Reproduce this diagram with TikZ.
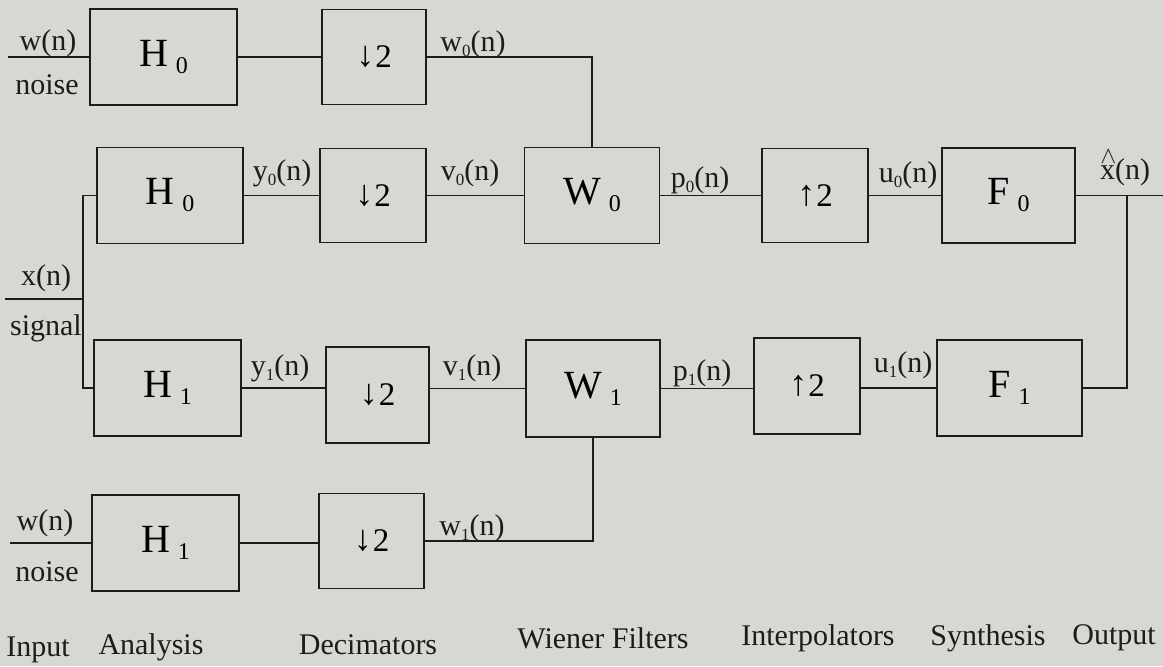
\documentclass[tikz,border=0pt]{standalone}
\usepackage{fontspec}
\setmainfont{Liberation Serif}
\usepackage{graphicx}
\definecolor{paper}{RGB}{213,216,211}
\definecolor{ink}{RGB}{28,28,28}
\newcommand{\bsub}[1]{\hspace{4pt}\raisebox{-3.5pt}{\fontsize{12}{12}\selectfont #1}}
\newcommand{\ssub}[1]{\raisebox{-2.5pt}{\fontsize{8.5}{8.5}\selectfont #1}}
\newcommand{\darr}{\raisebox{0.5pt}{\fontsize{18}{18}\selectfont ↓}\hspace{0.5pt}}
\newcommand{\uarr}{\raisebox{0.5pt}{\fontsize{18}{18}\selectfont ↑}\hspace{0.5pt}}
\newcommand{\xhat}{\rlap{\hspace{0.2pt}\raisebox{8pt}{\fontsize{13}{13}\selectfont$\wedge$}}x}
\begin{document}
\begin{tikzpicture}[x=0.5pt,y=-0.5pt,
  blk/.style 2 args={draw=ink, line width=0.85pt, inner sep=0pt,
    minimum width=#1*0.5pt, minimum height=#2*0.5pt},
  btxt/.style={font=\fontsize{20}{20}\selectfont},
  dtxt/.style={font=\fontsize{16.5}{16.5}\selectfont},
  lbl/.style={inner sep=0pt, text=ink, font=\fontsize{15}{15}\selectfont},
  wire/.style={draw=ink, line width=0.85pt}]
\fill[paper] (0,0) rectangle (1163,666);
\useasboundingbox (0,0) rectangle (1163,666);

% ---- blocks ----
\node[blk={147}{96}, btxt] (H0a) at (163.5,57) {H\bsub{0}};
\node[blk={104}{95}, dtxt] (D0a) at (374,57) {\darr 2};

\node[blk={146}{96}, btxt] (H0b) at (170,195.5) {H\bsub{0}};
\node[blk={106}{94}, dtxt] (D0b) at (373,195.5) {\darr 2};
\node[blk={135}{96}, btxt] (W0) at (592,195.5) {W\bsub{0}};
\node[blk={106}{94}, dtxt] (U0) at (815,195.5) {\uarr 2};
\node[blk={133}{95}, btxt] (F0) at (1008.5,195.5) {F\bsub{0}};

\node[blk={147}{96}, btxt] (H1c) at (167.5,388) {H\bsub{1}};
\node[blk={103}{96}, dtxt] (D1c) at (377.5,395) {\darr 2};
\node[blk={134}{97}, btxt] (W1) at (593,388.5) {W\bsub{1}};
\node[blk={106}{96}, dtxt] (U1) at (807,386) {\uarr 2};
\node[blk={145}{96}, btxt] (F1) at (1009.5,388) {F\bsub{1}};

\node[blk={147}{96}, btxt] (H1d) at (165.5,543) {H\bsub{1}};
\node[blk={105}{95}, dtxt] (D1d) at (371.5,541) {\darr 2};

% ---- free ends / corners ----
\coordinate (inA) at (8,57);
\coordinate (inX) at (5,299);
\coordinate (br) at (83,299);
\coordinate (inD) at (10,543);
\coordinate (oj) at (1127,195.5);
\coordinate (out) at (1163,195.5);

% ---- connectors ----
\draw[wire] (inA) -- (H0a);
\draw[wire] (H0a) -- (D0a);
\draw[wire] (D0a) -| (W0);

\draw[wire] (inX) -- (br);
\draw[wire] (H0b) -| (br) |- (H1c);
\draw[wire] (H0b) -- (D0b);
\draw[wire] (D0b) -- (W0);
\draw[wire] (W0) -- (U0);
\draw[wire] (U0) -- (F0);
\draw[wire] (F0) -- (out);

\draw[wire] (H1c) -- (H1c -| D1c.west);
\draw[wire] (D1c.east |- W1) -- (W1);
\draw[wire] (W1) -- (W1 -| U1.west);
\draw[wire] (U1.east |- F1) -- (F1);
\draw[wire] (F1) -| (oj);

\draw[wire] (inD) -- (H1d);
\draw[wire] (H1d) -- (H1d -| D1d.west);
\draw[wire] (D1d) -| (W1);

% ---- signal labels ----
\node[lbl] (lwA) at (48,43) {w(n)};
\node[lbl] (lnA) at (47,85) {noise};
\node[lbl] (lw0) at (473,44) {w\ssub{0}(n)};
\node[lbl] (ly0) at (282,173) {y\ssub{0}(n)};
\node[lbl] (lv0) at (470,173) {v\ssub{0}(n)};
\node[lbl] (lp0) at (700,180) {p\ssub{0}(n)};
\node[lbl] (lu0) at (908,175) {u\ssub{0}(n)};
\node[lbl] (lxh) at (1125,168) {\xhat(n)};
\node[lbl] (lx) at (46,278) {x(n)};
\node[lbl] (ls) at (46,328) {signal};
\node[lbl] (ly1) at (280,368) {y\ssub{1}(n)};
\node[lbl] (lv1) at (472,368) {v\ssub{1}(n)};
\node[lbl] (lp1) at (702,373) {p\ssub{1}(n)};
\node[lbl] (lu1) at (903,365) {u\ssub{1}(n)};
\node[lbl] (lwD) at (45,523) {w(n)};
\node[lbl] (lnD) at (47,572) {noise};
\node[lbl] (lw1) at (472,528) {w\ssub{1}(n)};

% ---- stage captions ----
\node[lbl] (cIn) at (38,650) {Input};
\node[lbl] (cAn) at (151,647) {Analysis};
\node[lbl] (cDe) at (368,645) {Decimators};
\node[lbl] (cWi) at (603,638) {Wiener Filters};
\node[lbl] (cIp) at (818,638) {Interpolators};
\node[lbl] (cSy) at (988,638) {Synthesis};
\node[lbl] (cOu) at (1114,638) {Output};
\end{tikzpicture}
\end{document}
